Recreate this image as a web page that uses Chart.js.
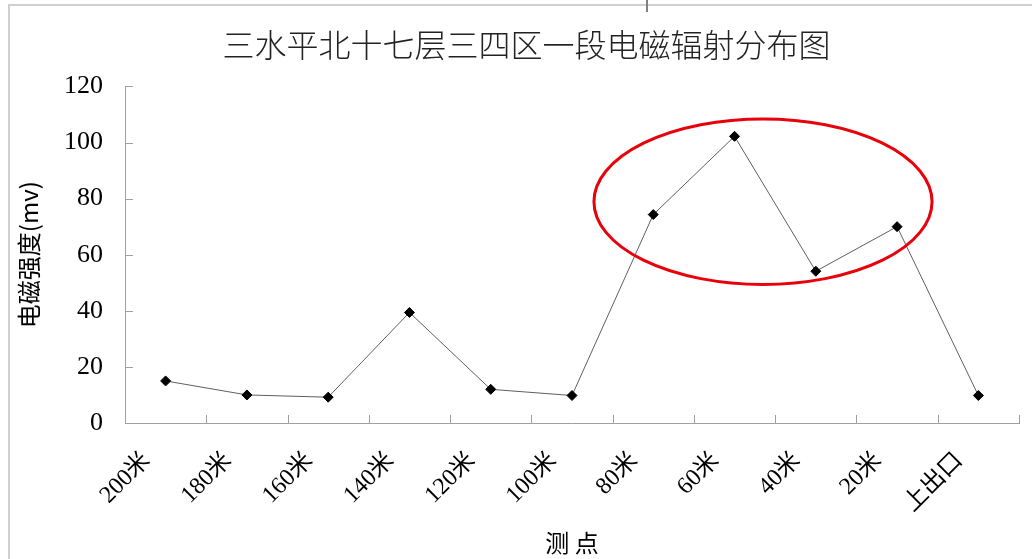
<!DOCTYPE html>
<html lang="zh">
<head>
    <meta charset="UTF-8">
    <title>三水平北十七层三四区一段电磁辐射分布图</title>
    <style>
        html, body { margin: 0; padding: 0; background: #fff; }
        .chart-box { width: 1032px; height: 559px; }
    </style>
    <script src="https://cdn.jsdelivr.net/npm/chart.js"></script>
</head>
<body>
    <div class="chart-box">
        <canvas id="emChart"></canvas>
    </div>

    <script>
        // 测点与电磁强度
        const categories = ['200米', '180米', '160米', '140米', '120米', '100米', '80米', '60米', '40米', '20米', '上出口'];
        const strength = [15, 10, 9.2, 39.4, 12, 9.8, 74.3, 102.2, 54.1, 70, 9.8];
        const yTicks = [0, 20, 40, 60, 80, 100, 120];
        // 红圈标注（类目序号、数值）
        const highlightCenter = [7.35, 78.9];
        const highlightRadius = [2.08, 29.5];

        const serifFont = '"Liberation Serif", "Times New Roman", "Noto Sans CJK SC", serif';
        const cjkFont = '"Noto Sans CJK SC", sans-serif';

        // 边框、内侧刻度、红圈
        const decorPlugin = {
            id: 'decor',
            beforeDraw(chart) {
                const ctx = chart.ctx;
                ctx.save();
                ctx.fillStyle = '#fff';
                ctx.fillRect(0, 0, chart.width, chart.height);
                ctx.strokeStyle = '#d0d0d0';
                ctx.lineWidth = 2;
                ctx.beginPath();
                ctx.moveTo(9, chart.height);
                ctx.lineTo(9, 5);
                ctx.lineTo(chart.width, 5);
                ctx.stroke();
                ctx.strokeStyle = '#808080';
                ctx.beginPath();
                ctx.moveTo(647, 0);
                ctx.lineTo(647, 12);
                ctx.stroke();
                ctx.restore();
            },
            afterDatasetsDraw(chart) {
                const ctx = chart.ctx;
                const x = chart.scales.x;
                const y = chart.scales.y;
                ctx.save();
                ctx.strokeStyle = '#a0a0a0';
                ctx.lineWidth = 1;
                ctx.beginPath();
                yTicks.forEach(v => {
                    const py = Math.round(y.getPixelForValue(v)) + 0.5;
                    ctx.moveTo(x.left, py);
                    ctx.lineTo(x.left + 8, py);
                });
                for (let i = 0; i <= categories.length; i++) {
                    const px = Math.round(x.getPixelForValue(i - 0.5)) + 0.5;
                    ctx.moveTo(px, y.bottom);
                    ctx.lineTo(px, y.bottom - 8);
                }
                ctx.stroke();

                const cx = x.getPixelForValue(highlightCenter[0]);
                const cy = y.getPixelForValue(highlightCenter[1]);
                const rx = x.getPixelForValue(highlightCenter[0] + highlightRadius[0]) - cx;
                const ry = cy - y.getPixelForValue(highlightCenter[1] + highlightRadius[1]);
                ctx.strokeStyle = '#e8000b';
                ctx.lineWidth = 3;
                ctx.beginPath();
                ctx.ellipse(cx, cy, rx, ry, 0, 0, Math.PI * 2);
                ctx.stroke();
                ctx.restore();
            }
        };

        new Chart(document.getElementById('emChart'), {
            type: 'line',
            data: {
                labels: categories,
                datasets: [{
                    data: strength,
                    borderColor: '#606060',
                    borderWidth: 1,
                    pointStyle: 'rectRot',
                    pointRadius: 5,
                    pointBackgroundColor: '#000',
                    pointBorderColor: '#000',
                    pointBorderWidth: 1,
                    tension: 0
                }]
            },
            options: {
                responsive: true,
                maintainAspectRatio: false,
                animation: false,
                layout: { padding: { left: 34, right: 13, top: 0, bottom: 0 } },
                plugins: {
                    legend: { display: false },
                    tooltip: { enabled: false },
                    title: {
                        display: true,
                        text: '三水平北十七层三四区一段电磁辐射分布图',
                        color: '#222',
                        font: { family: cjkFont, size: 32, weight: 300 },
                        padding: { top: 26, bottom: 22 }
                    }
                },
                scales: {
                    x: {
                        offset: true,
                        grid: { display: false, drawTicks: false },
                        border: { display: true, color: '#a0a0a0', width: 1 },
                        ticks: {
                            autoSkip: false,
                            minRotation: 45,
                            maxRotation: 45,
                            padding: 24,
                            labelOffset: -19,
                            color: '#000',
                            font: { family: serifFont, size: 24 }
                        },
                        title: {
                            display: true,
                            text: '测 点',
                            color: '#000',
                            font: { family: cjkFont, size: 24 },
                            padding: { top: 4, bottom: 2 }
                        },
                        afterFit(scale) { scale.height = 136; }
                    },
                    y: {
                        min: yTicks[0],
                        max: yTicks[yTicks.length - 1],
                        grid: { display: false, drawTicks: false },
                        border: { display: true, color: '#a0a0a0', width: 1 },
                        ticks: {
                            stepSize: yTicks[1] - yTicks[0],
                            padding: 22,
                            color: '#000',
                            font: { family: serifFont, size: 26 }
                        },
                        title: {
                            display: true,
                            text: '电磁强度(mv)',
                            color: '#000',
                            font: { family: cjkFont, size: 24 },
                            padding: { top: -20, bottom: 0 }
                        },
                        afterFit(scale) { scale.width = 91; }
                    }
                }
            },
            plugins: [decorPlugin]
        });
    </script>
</body>
</html>
